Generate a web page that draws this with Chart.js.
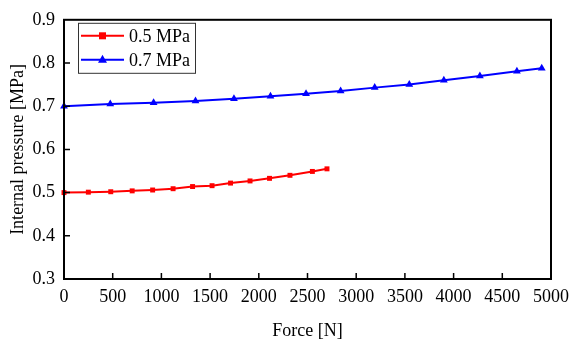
<!DOCTYPE html>
<html>
<head>
<meta charset="utf-8">
<script src="https://cdn.jsdelivr.net/npm/chart.js@4"></script>
<style>
  html, body { margin: 0; padding: 0; background: #fff; }
  #wrap { width: 573px; height: 340px; }
</style>
</head>
<body>
<div id="wrap"><canvas id="chart" width="573" height="340"></canvas></div>
<script>
// values
const force_05 = [0, 250, 480, 700, 910, 1120, 1320, 1520, 1710, 1910, 2110, 2320, 2550, 2700];
const pressure_05 = [0.500, 0.501, 0.502, 0.504, 0.506, 0.509, 0.514, 0.516, 0.522, 0.527, 0.533, 0.540, 0.549, 0.555];
const force_07 = [0, 475, 920, 1350, 1745, 2120, 2485, 2840, 3190, 3545, 3900, 4270, 4650, 4905];
const pressure_07 = [0.700, 0.705, 0.708, 0.712, 0.717, 0.723, 0.729, 0.735, 0.743, 0.750, 0.760, 0.770, 0.781, 0.788];
const series_labels = ['0.5 MPa', '0.7 MPa'];
const x_ticks = [0, 500, 1000, 1500, 2000, 2500, 3000, 3500, 4000, 4500, 5000];
const y_ticks = [0.3, 0.4, 0.5, 0.6, 0.7, 0.8, 0.9];

const serif = '"Liberation Serif", "Times New Roman", serif';

const toPoints = (xs, ys) => xs.map((x, i) => ({ x: x, y: ys[i] }));

// frame + inward ticks
const framePlugin = {
    id: 'frame',
    afterDraw(chart) {
        const { ctx, chartArea: a, scales } = chart;
        ctx.save();
        ctx.strokeStyle = '#000';
        ctx.lineWidth = 2;
        ctx.strokeRect(a.left, a.top, a.right - a.left, a.bottom - a.top);
        ctx.lineWidth = 1.5;
        ctx.beginPath();
        x_ticks.slice(1, -1).forEach(v => {
            const px = scales.x.getPixelForValue(v);
            ctx.moveTo(px, a.bottom);
            ctx.lineTo(px, a.bottom - 6);
        });
        y_ticks.slice(1, -1).forEach(v => {
            const py = scales.y.getPixelForValue(v);
            ctx.moveTo(a.left, py);
            ctx.lineTo(a.left + 6, py);
        });
        ctx.stroke();
        ctx.restore();
    }
};

// boxed legend inside the plot, top left
const boxLegend = {
    id: 'boxLegend',
    afterDraw(chart) {
        const { ctx, chartArea: a } = chart;
        const bx = a.left + 14, by = a.top + 3, bw = 117, bh = 50;
        ctx.save();
        ctx.fillStyle = '#fff';
        ctx.fillRect(bx, by, bw, bh);
        ctx.strokeStyle = '#333';
        ctx.lineWidth = 1;
        ctx.strokeRect(bx + 0.5, by + 0.5, bw, bh);
        chart.data.datasets.forEach((ds, i) => {
            const cy = by + 13 + i * 24;
            ctx.strokeStyle = ds.borderColor;
            ctx.lineWidth = 2;
            ctx.beginPath();
            ctx.moveTo(bx + 3, cy);
            ctx.lineTo(bx + 46, cy);
            ctx.stroke();
            ctx.fillStyle = ds.borderColor;
            if (ds.pointStyle === 'rect') {
                ctx.fillRect(bx + 21, cy - 3.5, 7, 7);
            } else {
                ctx.beginPath();
                ctx.moveTo(bx + 24.5, cy - 5);
                ctx.lineTo(bx + 29, cy + 3);
                ctx.lineTo(bx + 20, cy + 3);
                ctx.closePath();
                ctx.fill();
            }
            ctx.fillStyle = '#000';
            ctx.font = '18px ' + serif;
            ctx.textBaseline = 'middle';
            ctx.fillText(ds.label, bx + 51, cy + 1);
        });
        ctx.restore();
    }
};

new Chart(document.getElementById('chart'), {
    type: 'line',
    data: {
        datasets: [
            {
                label: series_labels[0],
                data: toPoints(force_05, pressure_05),
                borderColor: '#ff0000',
                backgroundColor: '#ff0000',
                borderWidth: 2,
                pointStyle: 'rect',
                pointRadius: 3.5,
                pointBorderWidth: 0,
                tension: 0,
                clip: false
            },
            {
                label: series_labels[1],
                data: toPoints(force_07, pressure_07),
                borderColor: '#0000ff',
                backgroundColor: '#0000ff',
                borderWidth: 2,
                pointStyle: 'triangle',
                pointRadius: 4.5,
                pointBorderWidth: 0,
                tension: 0,
                clip: false
            }
        ]
    },
    options: {
        responsive: false,
        animation: false,
        devicePixelRatio: 1,
        layout: { padding: { left: 0, right: 22, top: 19, bottom: 0 } },
        plugins: {
            legend: { display: false },
            tooltip: { enabled: false }
        },
        scales: {
            x: {
                type: 'linear',
                min: 0,
                max: 5000,
                afterBuildTicks: (s) => { s.ticks = x_ticks.map(v => ({ value: v })); },
                afterFit: (s) => { s.height = 61; s.paddingLeft = 0; s.paddingRight = 0; },
                grid: { display: false, drawTicks: false },
                border: { display: false },
                ticks: {
                    color: '#000',
                    font: { family: serif, size: 18 },
                    padding: 7,
                    maxRotation: 0,
                    autoSkip: false,
                    callback: (v) => String(v)
                },
                title: {
                    display: true,
                    text: 'Force [N]',
                    color: '#000',
                    font: { family: serif, size: 18, lineHeight: 1 },
                    padding: { top: 0, bottom: 0 }
                }
            },
            y: {
                min: 0.3,
                max: 0.9,
                afterBuildTicks: (s) => { s.ticks = y_ticks.map(v => ({ value: v })); },
                afterFit: (s) => { s.width = 64; },
                grid: { display: false, drawTicks: false },
                border: { display: false },
                ticks: {
                    color: '#000',
                    font: { family: serif, size: 18 },
                    padding: 9,
                    callback: (v) => v.toFixed(1)
                },
                title: {
                    display: true,
                    text: 'Internal pressure [MPa]',
                    color: '#000',
                    font: { family: serif, size: 18, lineHeight: 1 },
                    padding: { top: 9, bottom: 0 }
                }
            }
        }
    },
    plugins: [framePlugin, boxLegend]
});
</script>
</body>
</html>
